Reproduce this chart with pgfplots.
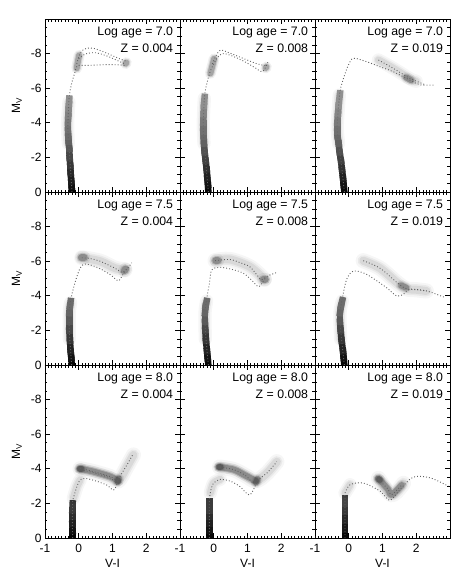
\documentclass[border=0pt]{standalone}
\usepackage{fontspec}
\setmainfont{Liberation Sans}
\usepackage{pgfplots}
\pgfplotsset{compat=1.18}
\usepgfplotslibrary{groupplots}

\pgfplotsset{
  colormap={msg}{gray(0cm)=(0.62); gray(1cm)=(0.38); gray(2cm)=(0.0)},
  iso/.style={draw=black!62, line width=0.9pt, dash pattern=on 0.9pt off 2.1pt, smooth, no marks},
  haze/.style={smooth, no marks, draw=none,
    preaction={draw=black, draw opacity=0.035, line width=1.9*#1, line cap=round, line join=round},
    preaction={draw=black, draw opacity=0.05, line width=1.4*#1, line cap=round, line join=round},
    postaction={draw=black, draw opacity=0.07, line width=#1, line cap=round, line join=round}},
  blob/.style={smooth, no marks, draw=none,
    preaction={draw=black, draw opacity=0.06, line width=1.8*#1, line cap=round, line join=round},
    preaction={draw=black, draw opacity=0.12, line width=1.35*#1, line cap=round, line join=round},
    postaction={draw=black, draw opacity=0.22, line width=#1, line cap=round, line join=round}},
  ms/.style={mesh, point meta=y, colormap name=msg, point meta min=-6, point meta max=0,
    line width=6.5pt, line cap=rect, no marks},
}
\newcommand{\lab}[2]{\node[anchor=north east, align=right, inner sep=0pt,
  font=\fontsize{12.3}{17}\selectfont] at (rel axis cs:0.95,0.955) {Log age = #1\\Z = #2};}

\begin{document}
\begin{tikzpicture}
\begin{groupplot}[
  group style={group size=3 by 3, horizontal sep=0pt, vertical sep=0pt,
    xticklabels at=edge bottom, yticklabels at=edge left,
    xlabels at=edge bottom, ylabels at=edge left},
  scale only axis, width=135pt, height=173pt,
  xmin=-1, xmax=3, ymin=-10, ymax=0, y dir=reverse,
  xtick={-1,0,1,2,3}, xticklabels={-1,0,1,2,{}},
  ytick={-10,-8,-6,-4,-2,0}, yticklabels={{},-8,-6,-4,-2,0},
  minor x tick num=9, minor y tick num=3,
  tick align=inside, major tick length=5pt, minor tick length=2.5pt,
  every tick/.style={black, line width=0.8pt},
  axis line style={line width=0.9pt},
  tick label style={font=\fontsize{12}{14}\selectfont},
  xticklabel style={yshift=-3pt},
  label style={font=\fontsize{12}{14}\selectfont},
  xlabel={V-I}, ylabel={M\textsubscript{V}},
  xlabel style={yshift=1pt}, ylabel style={yshift=2pt},
]
% ---- log age 7.0, Z 0.004
\nextgroupplot
\addplot[haze=7pt] coordinates {(-0.31,-2.8) (-0.33,-4.0) (-0.29,-5.2)};
\addplot[ms] coordinates {(-0.20,0) (-0.21,-0.3) (-0.22,-0.6) (-0.24,-1.1) (-0.25,-1.5) (-0.27,-2.0) (-0.28,-2.5) (-0.30,-2.9) (-0.31,-3.2) (-0.32,-3.6) (-0.32,-4.0) (-0.31,-4.4) (-0.30,-4.8) (-0.29,-5.1) (-0.28,-5.4)};
\addplot[blob=6pt] coordinates {(-0.06,-7.15) (-0.02,-7.6) (0.01,-7.9)};
\addplot[blob=6pt] coordinates {(1.39,-7.42) (1.41,-7.48)};
\addplot[iso] coordinates {(-0.20,0) (-0.25,-1.5) (-0.31,-3.2) (-0.32,-4.0) (-0.28,-5.5) (-0.22,-6.2) (-0.10,-7.0) (-0.04,-7.3) (0.3,-7.32) (0.8,-7.36) (1.2,-7.35) (1.38,-7.3)};
\addplot[iso] coordinates {(-0.06,-7.4) (0.05,-8.05) (0.22,-8.3) (0.45,-8.3) (0.8,-8.05) (1.15,-7.75) (1.42,-7.55)};
\addplot[iso] coordinates {(0.0,-7.7) (0.2,-7.98) (0.5,-8.05) (0.85,-7.85) (1.2,-7.55) (1.38,-7.4)};
\lab{7.0}{0.004}
% ---- log age 7.0, Z 0.008
\nextgroupplot
\addplot[haze=7pt] coordinates {(-0.29,-2.8) (-0.31,-4.0) (-0.28,-5.4)};
\addplot[ms] coordinates {(-0.16,0) (-0.17,-0.4) (-0.19,-0.8) (-0.21,-1.3) (-0.24,-1.8) (-0.27,-2.3) (-0.29,-2.8) (-0.30,-3.2) (-0.31,-3.5) (-0.31,-4.0) (-0.30,-4.5) (-0.29,-5.0) (-0.27,-5.5)};
\addplot[blob=6pt] coordinates {(-0.10,-6.85) (-0.04,-7.3) (0.01,-7.7)};
\addplot[blob=6pt] coordinates {(1.54,-7.17) (1.56,-7.23)};
\addplot[iso] coordinates {(-0.16,0) (-0.24,-1.8) (-0.31,-3.5) (-0.30,-4.5) (-0.27,-5.6) (-0.2,-6.3) (-0.1,-7.0) (0.0,-7.4) (0.1,-7.75) (0.25,-8.0) (0.5,-7.9) (0.9,-7.55) (1.25,-7.15) (1.42,-6.95) (1.52,-7.15) (1.6,-7.5)};
\addplot[iso] coordinates {(-0.04,-7.4) (0.06,-7.85) (0.2,-8.2) (0.45,-8.05) (0.9,-7.7) (1.3,-7.4) (1.57,-7.3)};
\lab{7.0}{0.008}
% ---- log age 7.0, Z 0.019
\nextgroupplot
\addplot[haze=7pt] coordinates {(-0.30,-2.8) (-0.34,-3.8) (-0.28,-5.6)};
\addplot[ms] coordinates {(-0.13,0) (-0.15,-0.4) (-0.17,-0.8) (-0.20,-1.3) (-0.23,-1.8) (-0.27,-2.3) (-0.30,-2.8) (-0.33,-3.2) (-0.34,-3.5) (-0.34,-4.0) (-0.32,-4.5) (-0.30,-5.0) (-0.26,-5.7)};
\addplot[haze=7pt] coordinates {(0.88,-7.63) (1.32,-7.15) (1.81,-6.55) (2.0,-6.4)};
\addplot[blob=6pt] coordinates {(1.7,-6.62) (1.85,-6.46)};
\addplot[iso] coordinates {(-0.13,0) (-0.23,-1.8) (-0.34,-3.5) (-0.32,-4.5) (-0.26,-5.8) (-0.15,-6.6) (-0.01,-7.34) (0.14,-7.73) (0.53,-7.53) (0.93,-7.24) (1.32,-6.95) (1.81,-6.47) (2.11,-6.2) (2.56,-6.18)};
\addplot[iso] coordinates {(0.88,-7.63) (1.32,-7.15) (1.81,-6.57) (2.27,-6.2)};
\lab{7.0}{0.019}
% ---- log age 7.5, Z 0.004
\nextgroupplot
\addplot[haze=7pt] coordinates {(-0.28,-1.5) (-0.28,-3.0) (-0.24,-3.6)};
\addplot[ms] coordinates {(-0.21,0) (-0.22,-0.4) (-0.24,-0.8) (-0.26,-1.4) (-0.28,-2.0) (-0.28,-2.5) (-0.28,-3.0) (-0.26,-3.4) (-0.24,-3.7)};
\addplot[haze=8pt] coordinates {(0.09,-6.2) (0.63,-6.0) (1.07,-5.6) (1.37,-5.5)};
\addplot[blob=7pt] coordinates {(0.08,-6.2) (0.16,-6.2)};
\addplot[blob=7pt] coordinates {(1.35,-5.45) (1.39,-5.55)};
\addplot[iso] coordinates {(-0.21,0) (-0.28,-2.0) (-0.28,-3.0) (-0.24,-3.76) (-0.12,-4.7) (0.04,-5.6) (0.21,-5.84) (0.6,-5.6) (0.95,-5.2) (1.17,-4.87) (1.3,-5.2) (1.38,-5.5)};
\addplot[iso] coordinates {(0.09,-6.2) (0.35,-6.15) (0.63,-6.0) (1.07,-5.6) (1.3,-5.35) (1.45,-5.6) (1.57,-5.91)};
\lab{7.5}{0.004}
% ---- log age 7.5, Z 0.008
\nextgroupplot
\addplot[haze=7pt] coordinates {(-0.25,-1.5) (-0.26,-3.0) (-0.21,-3.7)};
\addplot[ms] coordinates {(-0.16,0) (-0.18,-0.4) (-0.20,-0.8) (-0.23,-1.4) (-0.25,-2.0) (-0.26,-2.5) (-0.26,-3.0) (-0.24,-3.4) (-0.21,-3.7)};
\addplot[haze=8pt] coordinates {(0.04,-6.03) (0.48,-6.1) (1.07,-5.68) (1.5,-4.95)};
\addplot[blob=7pt] coordinates {(0.06,-6.03) (0.12,-6.03)};
\addplot[blob=7pt] coordinates {(1.47,-4.95) (1.53,-4.95)};
\addplot[iso] coordinates {(-0.16,0) (-0.25,-2.0) (-0.26,-3.0) (-0.21,-3.8) (-0.13,-4.7) (-0.06,-5.49) (0.19,-5.65) (0.6,-5.5) (0.88,-5.3) (1.1,-4.95) (1.32,-4.53) (1.45,-4.8) (1.52,-5.0)};
\addplot[iso] coordinates {(0.04,-6.03) (0.48,-6.1) (0.8,-5.9) (1.07,-5.68) (1.3,-5.15) (1.42,-4.93) (1.6,-5.15) (1.87,-5.35)};
\lab{7.5}{0.008}
% ---- log age 7.5, Z 0.019
\nextgroupplot
\addplot[haze=7pt] coordinates {(-0.24,-1.5) (-0.26,-3.0) (-0.19,-3.7)};
\addplot[ms] coordinates {(-0.13,0) (-0.15,-0.4) (-0.17,-0.8) (-0.21,-1.4) (-0.24,-2.0) (-0.26,-2.5) (-0.26,-3.0) (-0.23,-3.4) (-0.19,-3.75)};
\addplot[haze=8pt] coordinates {(0.43,-6.03) (0.93,-5.59) (1.47,-4.7) (1.72,-4.4) (2.0,-4.35) (2.3,-4.28)};
\addplot[blob=6pt] coordinates {(1.55,-4.6) (1.7,-4.47)};
\addplot[iso] coordinates {(-0.13,0) (-0.24,-2.0) (-0.26,-3.0) (-0.19,-3.85) (-0.06,-4.96) (0.14,-5.43) (0.53,-5.24) (1.12,-4.47) (1.42,-3.99) (1.62,-4.09) (1.81,-4.38) (2.31,-4.28) (2.85,-3.9)};
\addplot[iso] coordinates {(0.43,-6.03) (0.93,-5.59) (1.47,-4.7) (1.72,-4.4) (2.0,-4.35) (2.31,-4.28)};
\lab{7.5}{0.019}
% ---- log age 8.0, Z 0.004
\nextgroupplot
\addplot[ms] coordinates {(-0.18,0) (-0.18,-0.4) (-0.19,-0.8) (-0.19,-1.2) (-0.19,-1.6) (-0.18,-2.0)};
\addplot[haze=7pt] coordinates {(-0.16,-2.3) (-0.05,-3.0) (0.04,-3.35)};
\addplot[haze=8pt] coordinates {(0.04,-4.0) (0.43,-3.84) (0.93,-3.55) (1.17,-3.3) (1.42,-4.1) (1.62,-4.8)};
\addplot[blob=6pt] coordinates {(0.04,-4.0) (0.43,-3.84) (0.93,-3.55) (1.17,-3.3)};
\addplot[blob=6pt] coordinates {(0.02,-4.0) (0.08,-4.0)};
\addplot[blob=6pt] coordinates {(1.15,-3.25) (1.19,-3.45)};
\addplot[iso] coordinates {(-0.18,0) (-0.19,-1.0) (-0.18,-2.1) (-0.16,-2.3) (-0.05,-3.0) (0.04,-3.35) (0.19,-3.45) (0.5,-3.3) (0.83,-3.06) (1.02,-2.77) (1.1,-2.95) (1.22,-3.55) (1.42,-4.2) (1.62,-4.88)};
\addplot[iso] coordinates {(0.04,-4.03) (0.43,-3.84) (0.93,-3.55) (1.17,-3.26)};
\addplot[iso] coordinates {(0.15,-3.9) (0.5,-3.75) (0.95,-3.45) (1.12,-3.2)};
\lab{8.0}{0.004}
% ---- log age 8.0, Z 0.008
\nextgroupplot
\addplot[ms] coordinates {(-0.13,0) (-0.13,-0.4) (-0.13,-0.8) (-0.13,-1.2) (-0.13,-1.6) (-0.13,-2.1)};
\addplot[haze=7pt] coordinates {(-0.1,-2.6) (-0.01,-3.16) (0.19,-3.39)};
\addplot[haze=8pt] coordinates {(0.17,-4.1) (0.6,-3.95) (0.95,-3.6) (1.25,-3.3) (1.57,-3.74) (1.87,-4.41)};
\addplot[blob=6pt] coordinates {(0.17,-4.1) (0.6,-3.95) (0.95,-3.6) (1.25,-3.3)};
\addplot[blob=6pt] coordinates {(0.14,-4.1) (0.2,-4.1)};
\addplot[blob=6pt] coordinates {(1.25,-3.2) (1.3,-3.4)};
\addplot[iso] coordinates {(-0.13,0) (-0.13,-1.1) (-0.13,-2.2) (-0.08,-2.8) (-0.01,-3.16) (0.19,-3.39) (0.5,-3.28) (0.78,-2.97) (1.07,-2.49) (1.32,-3.35) (1.57,-3.74) (1.87,-4.41)};
\addplot[iso] coordinates {(0.19,-4.1) (0.6,-3.95) (0.95,-3.6) (1.15,-3.2) (1.25,-3.3)};
\lab{8.0}{0.008}
% ---- log age 8.0, Z 0.019
\nextgroupplot
\addplot[ms] coordinates {(-0.11,0) (-0.11,-0.5) (-0.11,-1.0) (-0.11,-1.5) (-0.11,-2.0) (-0.11,-2.3)};
\addplot[haze=7pt] coordinates {(-0.11,-2.6) (0.04,-3.08)};
\addplot[haze=8pt] coordinates {(0.88,-3.45) (1.27,-2.5) (1.62,-3.16)};
\addplot[blob=6pt] coordinates {(0.9,-3.4) (1.17,-2.81) (1.27,-2.5) (1.57,-3.06)};
\addplot[blob=6pt] coordinates {(0.86,-3.42) (0.92,-3.36)};
\addplot[iso] coordinates {(-0.11,0) (-0.11,-1.2) (-0.11,-2.4) (-0.11,-2.6) (0.04,-3.08) (0.43,-3.18) (0.93,-2.71) (1.22,-2.17) (1.52,-2.81) (1.91,-3.52) (2.41,-3.48) (2.95,-3.0)};
\addplot[iso] coordinates {(0.88,-3.39) (1.17,-2.81) (1.27,-2.5) (1.57,-3.06)};
\lab{8.0}{0.019}
\end{groupplot}
\path ([shift={(-45pt,19pt)}]group c1r1.north west) rectangle ([shift={(13pt,-41pt)}]group c3r3.south east);
\end{tikzpicture}
\end{document}
